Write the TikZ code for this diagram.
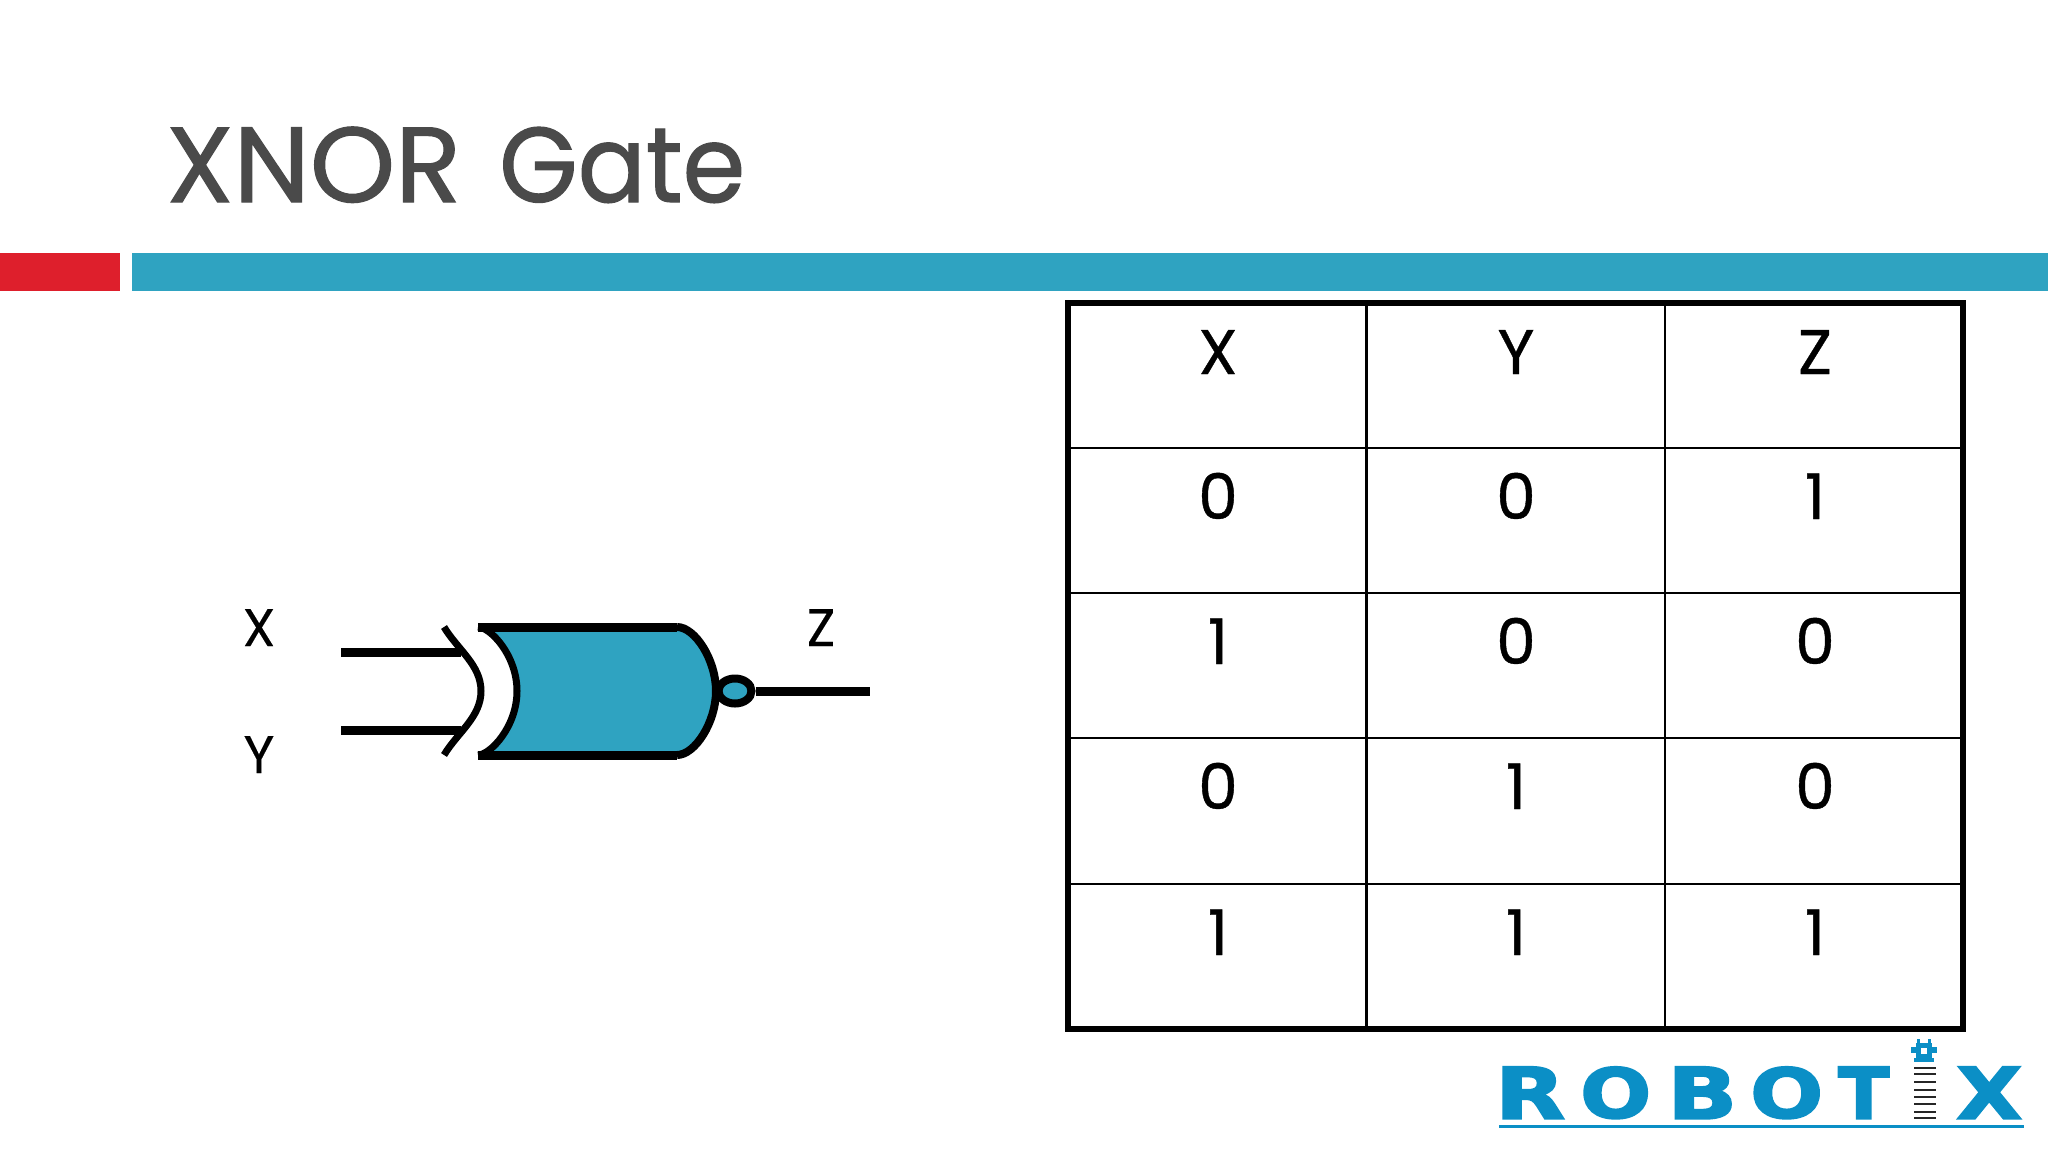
\documentclass[tikz,border=0pt]{standalone}
\usepackage{graphicx}
\usepackage{fontspec}
\usetikzlibrary{shapes.geometric}
\setmainfont{Poppins}[FakeBold=0.25]
\newfontfamily\cellfont{Poppins}[FakeBold=0.6]
\newfontfamily\titlefont{Poppins}[FakeBold=1.1]
\newfontfamily\logofont{DejaVu Sans Bold}[FakeBold=2.5]
\definecolor{teal1}{HTML}{2FA3C1}
\definecolor{red1}{HTML}{DE1F2C}
\definecolor{title1}{HTML}{4A4A4A}
\definecolor{logo1}{HTML}{0B8FC6}
\tikzset{
  cell/.style={anchor=base,inner sep=0pt,font=\cellfont\fontsize{63}{63}\selectfont,text=black},
  gatelabel/.style={anchor=base,inner sep=0pt,font=\fontsize{53}{53}\selectfont,text=black},
  wire/.style={line width=9pt,black},
  gridthin/.style={line width=2.6pt,black},
  gridthick/.style={line width=5.5pt,black,line cap=rect},
  gatecurve/.style={line width=8pt,black},
  logoletter/.style={anchor=south west,inner sep=0pt,text=logo1},
  stripe/.style={line width=2pt,black!85}
}
\newcommand{\logoL}[3]{\resizebox*{#1pt}{#2pt}{\logofont #3}}
\begin{document}
\begin{tikzpicture}[x=1pt,y=-1pt]
\useasboundingbox (0,0) rectangle (2048,1152);
% title and bars
\node[anchor=base west,inner sep=0pt,text=title1] (title) at (166,202)
  {\titlefont\fontsize{106}{106}\selectfont\resizebox*{295pt}{76pt}{XNOR}\hspace{38pt}\resizebox*{246pt}{76pt}{Gate}};
\fill[red1] (0,253) rectangle (119.5,291);
\fill[teal1] (132,253) rectangle (2048,291);
% table grid
\foreach \yy in {448,593,738,884} \draw[gridthin] (1068,\yy) -- (1963,\yy);
\foreach \xx in {1366.5,1665} \draw[gridthin] (\xx,303) -- (\xx,1029);
\draw[gridthick] (1068,303) rectangle (1963,1029);
% table text
\node[cell] (h1) at (1218,374) {X};
\node[cell] (h2) at (1516,374) {Y};
\node[cell] (h3) at (1815,374) {Z};
\node[cell] (a1) at (1218,519) {0};
\node[cell] (a2) at (1516,519) {0};
\node[cell] (a3) at (1815,519) {1};
\node[cell] (b1) at (1218,664) {1};
\node[cell] (b2) at (1516,664) {0};
\node[cell] (b3) at (1815,664) {0};
\node[cell] (c1) at (1218,809) {0};
\node[cell] (c2) at (1516,809) {1};
\node[cell] (c3) at (1815,809) {0};
\node[cell] (d1) at (1218,955) {1};
\node[cell] (d2) at (1516,955) {1};
\node[cell] (d3) at (1815,955) {1};
% gate labels
\node[gatelabel] (lx) at (259,646) {X};
\node[gatelabel] (ly) at (259,773) {Y};
\node[gatelabel] (lz) at (821,646) {Z};
% gate body
\fill[teal1] (478,627) -- (677,627) .. controls (695,627) and (716,660) .. (716,691)
  .. controls (716,722) and (695,755) .. (677,755) -- (478,755)
  .. controls (490,755) and (517,727) .. (517,691)
  .. controls (517,655) and (490,627) .. (478,627) -- cycle;
\draw[gatecurve] (677,627) .. controls (695,627) and (716,660) .. (716,691)
  .. controls (716,722) and (695,755) .. (677,755);
\draw[gatecurve,line width=7pt] (478,627) .. controls (490,627) and (517,655) .. (517,691)
  .. controls (517,727) and (490,755) .. (478,755);
\draw[wire] (478,627) -- (677,627);
\draw[wire] (478,755) -- (677,755);
% input arc
\draw[gatecurve,line width=7pt] (444,627) .. controls (458,650) and (481,665) .. (481,691)
  .. controls (481,717) and (458,732) .. (444,755);
% wires
\coordinate (xin) at (341,652);
\coordinate (xend) at (461,652);
\coordinate (yin) at (341,730);
\coordinate (yend) at (461,730);
\coordinate (zend) at (870,691);
\node[draw=black,line width=8pt,fill=teal1,ellipse,inner sep=0pt,
  minimum width=33pt,minimum height=25pt] (bubble) at (735,691) {};
\draw[wire] (xin) -- (xend);
\draw[wire] (yin) -- (yend);
\draw[wire] (bubble.east) -- (zend);
% logo
\node[logoletter] (l1) at (1495,1119) {\logoL{70}{52}{R}};
\node[logoletter] (l2) at (1580,1119) {\logoL{71}{52}{O}};
\node[logoletter] (l3) at (1667,1119) {\logoL{70}{52}{B}};
\node[logoletter] (l4) at (1750,1119) {\logoL{73}{52}{O}};
\node[logoletter] (l5) at (1838,1119) {\logoL{51}{52}{T}};
\node[logoletter] (l6) at (1956,1119) {\logoL{66}{52}{X}};
\foreach \yy in {1068,1074,1082,1090,1097,1104,1112,1118}
  \draw[stripe] (1914,\yy) -- (1936,\yy);
\draw[logo1,line width=3pt] (1499,1126) -- (2024,1126);
% robot mark
\fill[logo1] (1916,1043) rectangle (1932,1059);
\fill[logo1] (1911,1047) rectangle (1937,1053);
\fill[logo1] (1917,1039) rectangle (1920,1044);
\fill[logo1] (1928,1039) rectangle (1931,1044);
\fill[logo1] (1914,1058) rectangle (1934,1062);
\fill[white] (1921,1048) rectangle (1927,1054);
\end{tikzpicture}
\end{document}
